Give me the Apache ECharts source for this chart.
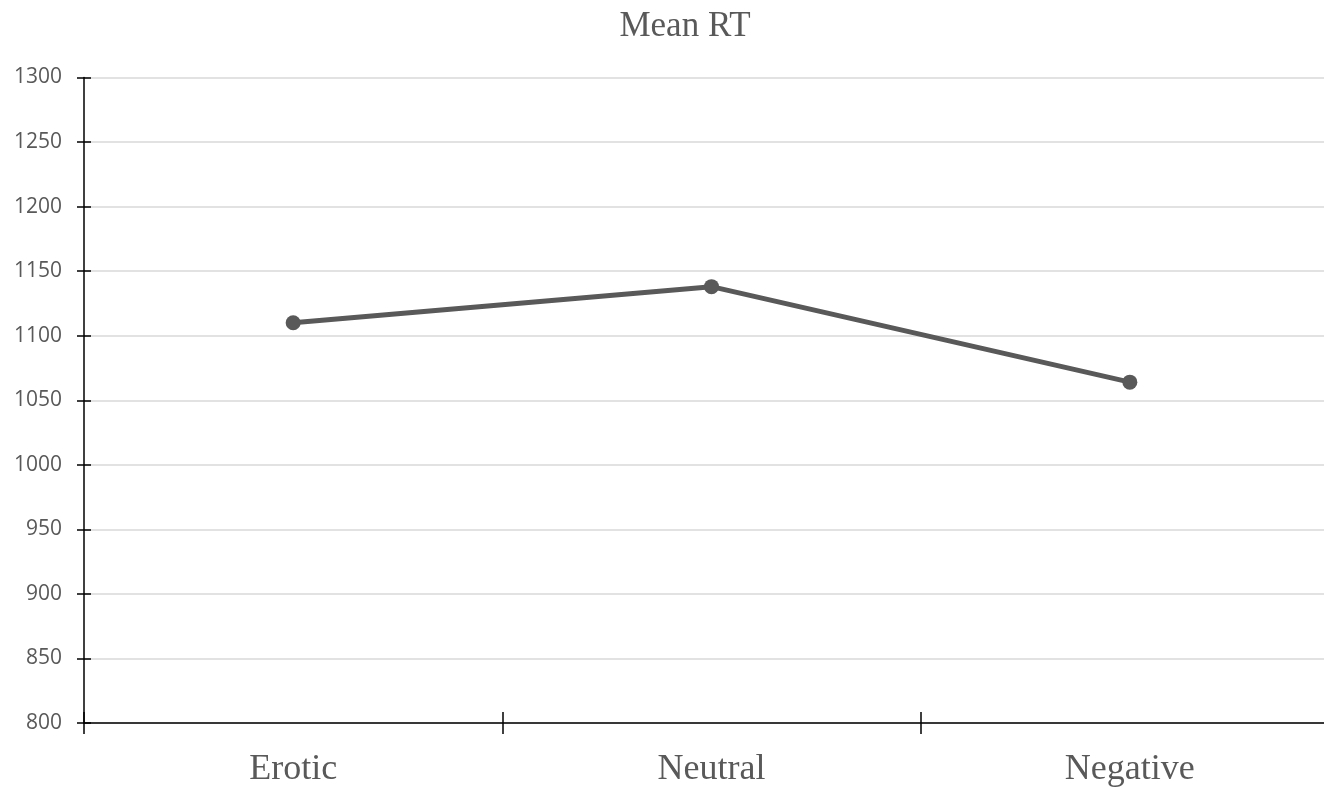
<!DOCTYPE html>
<html>
<head>
<meta charset="utf-8">
<script src="https://cdn.jsdelivr.net/npm/echarts@6/dist/echarts.min.js"></script>
<style>html,body{margin:0;padding:0;background:#fff;overflow:hidden;width:1324px;height:788px;}#c{width:1339px;height:788px;}</style>
</head>
<body>
<div id="c"></div>
<script>
const categories = ['Erotic', 'Neutral', 'Negative'];
const meanRT = [1110, 1138, 1064];
const yMin = 800, yMax = 1300, yStep = 50;

const chart = echarts.init(document.getElementById('c'), null, {renderer: 'canvas'});
const grid = {left: 84, right: 0, top: 77.5, bottom: 65, containLabel: false};
const axisLineStyle = {color: '#000', width: 1.5};
chart.setOption({
  animation: false,
  backgroundColor: '#fff',
  title: {
    text: 'Mean RT',
    left: 680, top: 4, textAlign: 'center',
    textStyle: {fontFamily: 'Liberation Serif', fontWeight: 'normal', fontSize: 35, color: '#595959'}
  },
  grid: grid,
  xAxis: [{
    type: 'category', data: categories, position: 'bottom',
    boundaryGap: true,
    axisLine: {show: true, lineStyle: axisLineStyle},
    axisTick: {show: true, length: 11, lineStyle: axisLineStyle},
    axisLabel: {margin: 29, fontFamily: 'Liberation Serif', fontSize: 36, color: '#595959'},
    splitLine: {show: false}
  }, {
    type: 'category', data: categories, position: 'bottom',
    boundaryGap: true,
    axisLine: {show: false},
    axisTick: {show: true, inside: true, length: 11, lineStyle: axisLineStyle},
    axisLabel: {show: false},
    splitLine: {show: false}
  }],
  yAxis: [{
    type: 'value', min: yMin, max: yMax, interval: yStep,
    axisLine: {show: true, lineStyle: axisLineStyle},
    axisTick: {show: true, length: 7, lineStyle: axisLineStyle},
    axisLabel: {margin: 22, fontFamily: 'Open Sans', fontSize: 21, color: '#595959',
      formatter: v => String(v)},
    splitLine: {show: true, lineStyle: {color: '#d9d9d9', width: 1.5}}
  }, {
    type: 'value', min: yMin, max: yMax, interval: yStep, position: 'left',
    axisLine: {show: false},
    axisTick: {show: true, inside: true, length: 7, lineStyle: axisLineStyle},
    axisLabel: {show: false},
    splitLine: {show: false}
  }],
  series: [{
    type: 'line', data: meanRT,
    xAxisIndex: 0, yAxisIndex: 0,
    symbol: 'circle', symbolSize: 15,
    lineStyle: {color: '#595959', width: 5},
    itemStyle: {color: '#595959'},
    z: 5
  }]
});
</script>
</body>
</html>
